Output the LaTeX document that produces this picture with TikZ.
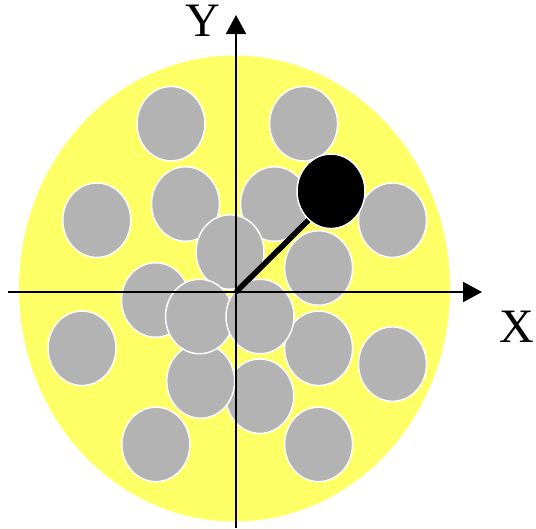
\documentclass[tikz,border=0pt]{standalone}
\usepackage{fontspec}
\setmainfont{Liberation Serif}
\usetikzlibrary{shapes.geometric,arrows.meta}
\definecolor{bgyellow}{RGB}{255,255,102}
\definecolor{ballgray}{RGB}{179,179,179}
\tikzset{
  ball/.style={ellipse, minimum width=68pt, minimum height=74.5pt, inner sep=0pt,
    fill=ballgray, draw=white, line width=1.5pt},
  blackball/.style={ball, fill=black},
  axis/.style={line width=2pt, -{Triangle[length=19pt,width=20pt]}},
  arm/.style={line width=5.5pt},
  lbl/.style={font=\fontsize{48}{48}\selectfont, inner sep=0pt}
}
\begin{document}
\begin{tikzpicture}[x=1pt,y=-1pt]
\useasboundingbox (0,0) rectangle (536,528);
\fill[bgyellow] (234.5,288.5) ellipse [x radius=215.5, y radius=233];
\node[ball] (c1) at (171,123.7) {};
\node[ball] (c2) at (303.6,123.7) {};
\node[ball] (c3) at (96.8,220.2) {};
\node[ball] (c4) at (185.5,204) {};
\node[ball] (c5) at (274.5,204) {};
\node[ball] (c6) at (392.5,220.2) {};
\node[ball] (c9) at (155.5,300) {};
\node[ball] (c7) at (230,252) {};
\node[ball] (c8) at (318.6,268) {};
\node[ball] (c12) at (82,348.3) {};
\node[ball] (c13) at (318.6,348.3) {};
\node[ball] (c14) at (392.5,364.1) {};
\node[ball] (c16) at (259.8,396.2) {};
\node[ball] (c15) at (200.7,381) {};
\node[ball] (c10) at (199.5,316.5) {};
\node[ball] (c11) at (260,316.5) {};
\node[ball] (c17) at (155.9,444.4) {};
\node[ball] (c18) at (318.6,444.4) {};
\node[blackball] (blk) at (331,191.3) {};
\coordinate (O) at (236,292);
\coordinate (xs) at (8,292);
\coordinate (xe) at (482,292);
\coordinate (ys) at (236,528);
\coordinate (ye) at (236,15);
\draw[arm] (O) -- (blk.232);
\draw[axis] (xs) -- (xe);
\draw[axis] (ys) -- (ye);
\node[lbl] (ylab) at (202.5,21) {Y};
\node[lbl] (xlab) at (517,326.5) {X};
\end{tikzpicture}
\end{document}
